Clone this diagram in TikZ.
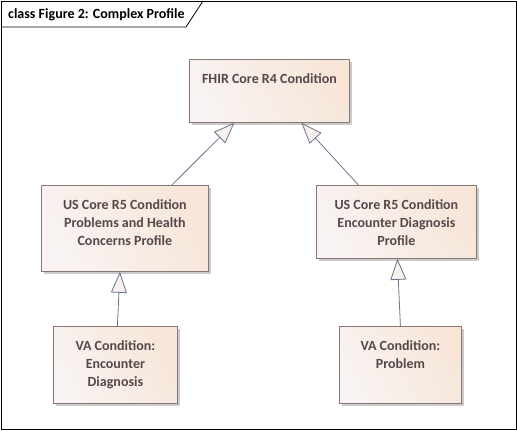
\documentclass[tikz,border=0pt]{standalone}
\usepackage{fontspec}
\setmainfont{Carlito}
\usetikzlibrary{arrows.meta,shadows}

\definecolor{boxline}{HTML}{8A7674}
\definecolor{boxpale}{HTML}{F8F3F2}
\definecolor{boxpeach}{HTML}{F7E6D8}
\definecolor{txtcol}{HTML}{54484A}
\definecolor{lnkcol}{HTML}{6A7490}
\definecolor{tipfill}{HTML}{F8F0EC}

\tikzset{
  classbox/.style={draw=boxline, line width=0.8pt, anchor=north west,
    left color=boxpale, right color=boxpeach, shading angle=120,
    drop shadow={shadow xshift=2.5pt, shadow yshift=-2.5pt, fill=black!35, opacity=0.6},
    inner sep=0pt},
  classtxt/.style={text=txtcol, font=\bfseries\fontsize{14}{18}\selectfont,
    align=center, anchor=north, inner sep=0pt},
  genlink/.style={draw=lnkcol, line width=0.8pt,
    -{Triangle[length=21pt, width=16pt, fill=tipfill, line width=0.8pt]}}
}

\begin{document}
\begin{tikzpicture}[x=1pt, y=-1pt]
  \useasboundingbox (0,0) rectangle (517,431);
  % frame and title tab
  \draw[line width=0.8pt] (1,1) rectangle (516,429);
  \draw[line width=0.8pt] (1,27)--(186,27)--(203,1);
  \node[anchor=base west, inner sep=0pt, font=\bfseries\fontsize{14}{16}\selectfont] (title) at (8,19) {class Figure 2: Complex Profile};

  % classes
  \node[classbox, minimum width=160pt, minimum height=63pt] (fhir) at (189,59) {};
  \node[classtxt] (fhirtxt) at ([yshift=-14pt]fhir.north) {FHIR Core R4 Condition};

  \node[classbox, minimum width=167pt, minimum height=86pt] (uspc) at (41,185) {};
  \node[classtxt] (uspctxt) at ([yshift=-14.5pt]uspc.north) {US Core R5 Condition\\Problems and Health\\Concerns Profile};

  \node[classbox, minimum width=160pt, minimum height=73pt] (usenc) at (316,185) {};
  \node[classtxt] (usenctxt) at ([yshift=-14.5pt]usenc.north) {US Core R5 Condition\\Encounter Diagnosis\\Profile};

  \node[classbox, minimum width=124pt, minimum height=77pt] (vaenc) at (53,326) {};
  \node[classtxt] (vaenctxt) at ([yshift=-14.5pt]vaenc.north) {VA Condition:\\Encounter\\Diagnosis};

  \node[classbox, minimum width=122pt, minimum height=77pt] (vaprob) at (339,326) {};
  \node[classtxt] (vaprobtxt) at ([yshift=-14.5pt]vaprob.north) {VA Condition:\\Problem};

  % generalizations
  \draw[genlink] ([xshift=47pt]uspc.north) -- ([xshift=-35pt]fhir.south);
  \draw[genlink] ([xshift=-38pt]usenc.north) -- ([xshift=32pt]fhir.south);
  \draw[genlink] ([xshift=2pt]vaenc.north) -- ([xshift=-5pt]uspc.south);
  \draw[genlink] (vaprob.north) -- ([xshift=1pt]usenc.south);
\end{tikzpicture}
\end{document}
